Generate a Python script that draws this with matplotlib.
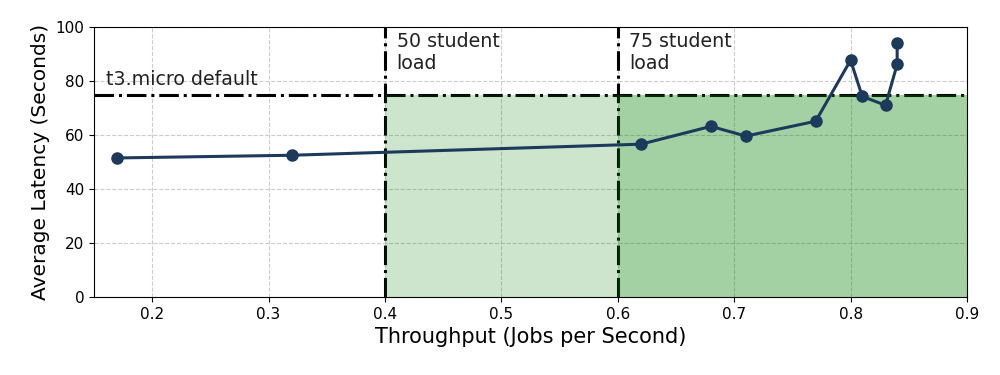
import matplotlib
matplotlib.use("Agg")
import matplotlib.pyplot as plt

throughput = [0.17, 0.32, 0.62, 0.68, 0.71, 0.77, 0.80, 0.81, 0.83, 0.84, 0.84]
latency = [51.5, 52.5, 56.6, 63.2, 59.6, 65.1, 87.7, 74.3, 71.0, 86.2, 94.0]
default_latency = 75
load_50 = 0.4
load_75 = 0.6
xmax = 0.9

fig = plt.figure(figsize=(10, 3.75), dpi=100)
ax = fig.add_axes([0.094, 0.208, 0.873, 0.72])
ax.set_xlim(0.15, xmax)
ax.set_ylim(0, 100)
ax.grid(True, linestyle='--', color='#cccccc', linewidth=0.8)
ax.set_axisbelow(True)

ax.axhline(default_latency, color='black', linestyle='-.', linewidth=2.2, zorder=2)
ax.axvline(load_50, color='black', linestyle='-.', linewidth=2.2, zorder=2)
ax.axvline(load_75, color='black', linestyle='-.', linewidth=2.2, zorder=2)
ax.fill_between([load_50, load_75], 0, default_latency, color='green', alpha=0.2, linewidth=0, zorder=3)
ax.fill_between([load_75, xmax], 0, default_latency, color='green', alpha=0.36, linewidth=0, zorder=3)

ax.plot(throughput, latency, color='#1d3a5c', marker='o', markersize=8, linewidth=2.2, zorder=4)

ax.text(0.16, 77, 't3.micro default', fontsize=13.7, color='#222222', va='bottom')
ax.text(0.41, 98, '50 student\nload', fontsize=13.7, color='#222222', va='top')
ax.text(0.61, 98, '75 student\nload', fontsize=13.7, color='#222222', va='top')

ax.set_xlabel('Throughput (Jobs per Second)', fontsize=15)
ax.set_ylabel('Average Latency (Seconds)', fontsize=14.5)
ax.tick_params(labelsize=11)

fig.savefig('out.png', dpi=100)
